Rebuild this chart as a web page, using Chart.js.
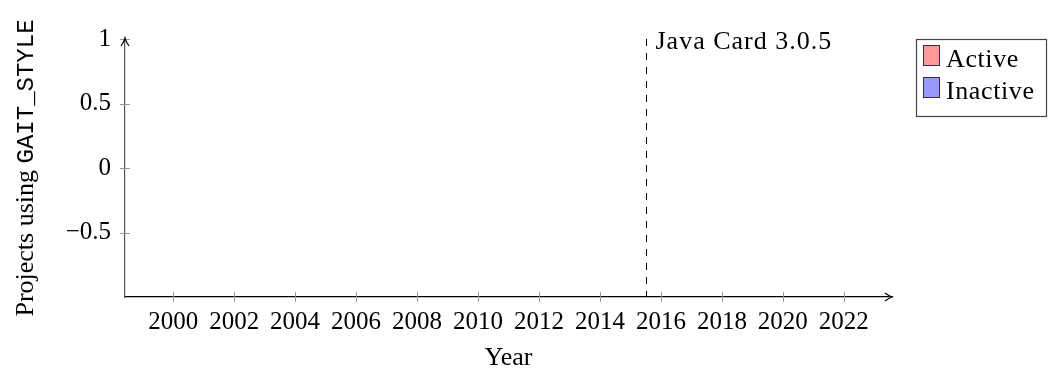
<!DOCTYPE html>
<html>
<head>
<meta charset="utf-8">
<script src="https://cdn.jsdelivr.net/npm/chart.js@4"></script>
<style>
  html, body { margin: 0; padding: 0; background: #fff; }
  canvas { display: block; }
</style>
</head>
<body>
<canvas id="chart" width="1052" height="374"></canvas>
<script>
// no rows in the data set, only the axes and the marker remain
const years = [];
const activeCounts = [];
const inactiveCounts = [];
const seriesNames = ['Active', 'Inactive'];
const seriesColors = ['#ff9999', '#9999ff'];

const xTicks = [2000, 2002, 2004, 2006, 2008, 2010, 2012, 2014, 2016, 2018, 2020, 2022];
const yTicks = [-0.5, 0, 0.5, 1];
const markerYear = 2015.5;
const markerLabel = 'Java Card 3.0.5';

const SERIF = '"Liberation Serif", "DejaVu Serif", serif';
const MONO = '"Liberation Mono", "DejaVu Sans Mono", monospace';

const extras = {
    id: 'extras',
    afterDraw(chart) {
        const ctx = chart.ctx;
        const x = chart.scales.x, y = chart.scales.y;
        const area = chart.chartArea;
        ctx.save();

        // tick marks crossing the axis lines
        ctx.strokeStyle = '#999';
        ctx.lineWidth = 1;
        xTicks.forEach(v => {
            const px = Math.round(x.getPixelForValue(v)) + 0.5;
            ctx.beginPath();
            ctx.moveTo(px, area.bottom - 5);
            ctx.lineTo(px, area.bottom + 5);
            ctx.stroke();
        });
        yTicks.forEach(v => {
            const py = Math.round(y.getPixelForValue(v)) + 0.5;
            ctx.beginPath();
            ctx.moveTo(area.left - 5, py);
            ctx.lineTo(area.left + 5, py);
            ctx.stroke();
        });

        // arrow heads
        ctx.strokeStyle = '#000';
        ctx.lineWidth = 1.2;
        ctx.beginPath();
        ctx.moveTo(area.right - 7, area.bottom - 4);
        ctx.quadraticCurveTo(area.right - 3, area.bottom - 1, area.right, area.bottom);
        ctx.quadraticCurveTo(area.right - 3, area.bottom + 1, area.right - 7, area.bottom + 4);
        ctx.stroke();
        ctx.beginPath();
        ctx.moveTo(area.left - 4, area.top + 7);
        ctx.quadraticCurveTo(area.left - 1, area.top + 3, area.left, area.top - 1);
        ctx.quadraticCurveTo(area.left + 1, area.top + 3, area.left + 4, area.top + 7);
        ctx.stroke();

        // release marker
        const mx = Math.round(x.getPixelForValue(markerYear)) + 0.5;
        ctx.setLineDash([7, 7]);
        ctx.lineWidth = 1;
        ctx.beginPath();
        ctx.moveTo(mx, area.top);
        ctx.lineTo(mx, area.bottom);
        ctx.stroke();
        ctx.setLineDash([]);
        ctx.fillStyle = '#000';
        ctx.font = '26px ' + SERIF;
        ctx.letterSpacing = '1px';
        ctx.textBaseline = 'alphabetic';
        ctx.textAlign = 'left';
        ctx.fillText(markerLabel, mx + 9, area.top + 10);

        // y axis title, two fonts
        const part1 = 'Projects using ';
        const part2 = 'GAIT_STYLE';
        ctx.letterSpacing = '0px';
        ctx.font = '26px ' + SERIF;
        const w1 = ctx.measureText(part1).width;
        ctx.font = '24px ' + MONO;
        const w2 = ctx.measureText(part2).width;
        ctx.translate(33, (area.top + area.bottom) / 2);
        ctx.rotate(-Math.PI / 2);
        const start = -(w1 + w2) / 2;
        ctx.font = '26px ' + SERIF;
        ctx.fillText(part1, start, 0);
        ctx.font = '24px ' + MONO;
        ctx.fillText(part2, start + w1, 0);
        ctx.setTransform(1, 0, 0, 1, 0, 0);

        // legend box
        ctx.strokeStyle = '#444';
        ctx.lineWidth = 1.2;
        ctx.strokeRect(916.5, 39.5, 130, 77);
        ctx.font = '26px ' + SERIF;
        ctx.letterSpacing = '0.6px';
        seriesNames.forEach((name, i) => {
            const top = 45 + i * 32;
            ctx.fillStyle = seriesColors[i];
            ctx.fillRect(923, top, 17, 21);
            ctx.strokeStyle = '#333';
            ctx.lineWidth = 1;
            ctx.strokeRect(923.5, top + 0.5, 16, 20);
            ctx.fillStyle = '#000';
            ctx.fillText(name, 946, top + 22);
        });
        ctx.restore();
    }
};

new Chart(document.getElementById('chart'), {
    type: 'line',
    data: {
        labels: years,
        datasets: [
            { label: seriesNames[0], data: activeCounts, backgroundColor: seriesColors[0], borderColor: '#000', fill: true, pointRadius: 0 },
            { label: seriesNames[1], data: inactiveCounts, backgroundColor: seriesColors[1], borderColor: '#000', fill: true, pointRadius: 0 }
        ]
    },
    options: {
        responsive: false,
        animation: false,
        devicePixelRatio: 1,
        layout: { padding: { left: 0, top: 39, right: 160, bottom: 0 } },
        plugins: { legend: { display: false }, tooltip: { enabled: false } },
        scales: {
            x: {
                type: 'linear',
                min: 1998.42,
                max: 2023.58,
                grid: { display: false, drawTicks: false },
                border: { display: true, color: '#000', width: 1.2 },
                afterBuildTicks: s => { s.ticks = xTicks.map(v => ({ value: v })); },
                afterFit: s => { s.height = 77; },
                ticks: {
                    autoSkip: false,
                    maxRotation: 0,
                    padding: 10,
                    color: '#000',
                    font: { family: SERIF, size: 25 },
                    callback: v => String(v)
                },
                title: {
                    display: true,
                    text: 'Year',
                    color: '#000',
                    font: { family: SERIF, size: 26 },
                    padding: { top: 6, bottom: 0 }
                }
            },
            y: {
                min: -1,
                max: 1,
                grid: { display: false, drawTicks: false },
                border: { display: true, color: '#555', width: 1.2 },
                afterBuildTicks: s => { s.ticks = yTicks.map(v => ({ value: v })); },
                afterFit: s => { s.width = 125; },
                ticks: {
                    padding: 14,
                    color: '#000',
                    font: { family: SERIF, size: 25 },
                    callback: v => v < 0 ? '\u2212' + Math.abs(v) : String(v)
                }
            }
        }
    },
    plugins: [extras]
});
</script>
</body>
</html>
